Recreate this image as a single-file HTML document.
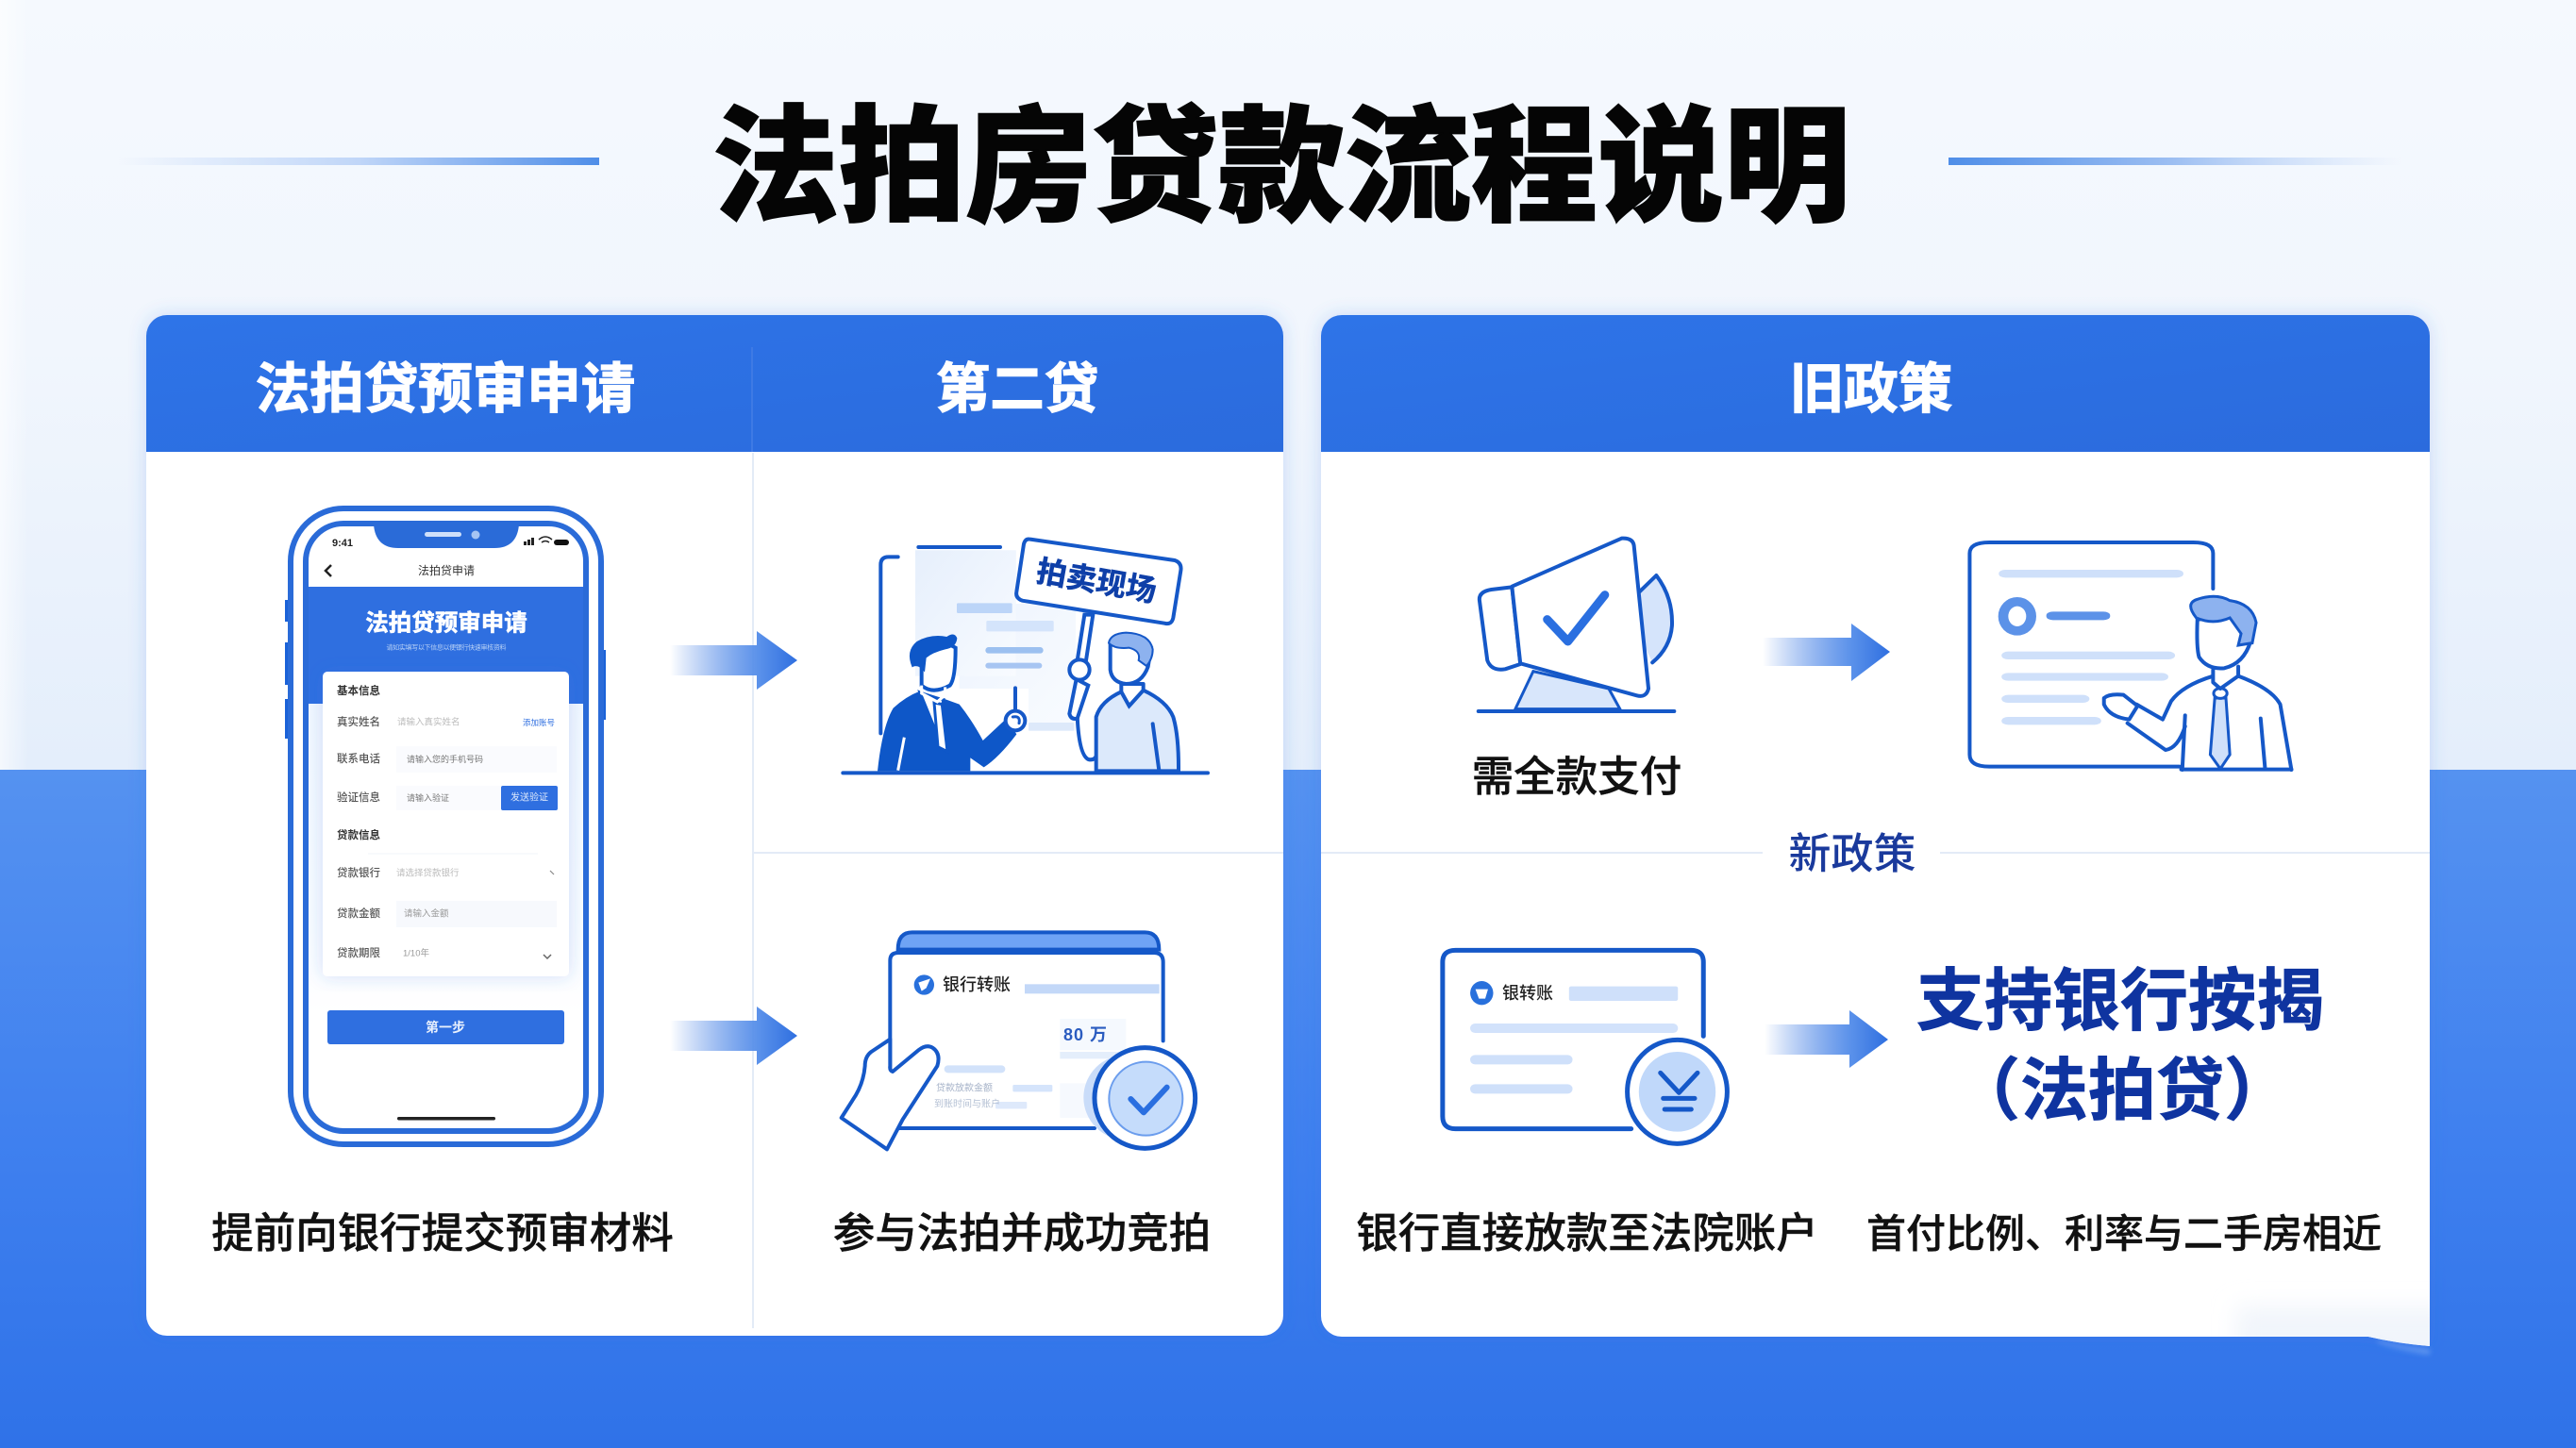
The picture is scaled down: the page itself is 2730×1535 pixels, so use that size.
<!DOCTYPE html>
<html lang="zh">
<head>
<meta charset="utf-8">
<title>法拍房贷款流程说明</title>
<style>
html,body{margin:0;padding:0;width:2730px;height:1535px;overflow:hidden;background:#fff}
svg{display:block;position:absolute;left:0;top:0}
text{font-family:"Liberation Sans","Noto Sans CJK SC",sans-serif}
.c{text-anchor:middle;dominant-baseline:central}
.l{dominant-baseline:central}
.hd{font-size:57.5px;font-weight:700;fill:#fff;stroke:#fff;stroke-width:1.2px}
.cap{font-size:44.5px;fill:#111;font-weight:500;stroke:#111;stroke-width:.4px}
.pl{font-size:11.5px;fill:#555;font-weight:500}
.pv{font-size:9.5px;fill:#bbb}
g.t *{vector-effect:non-scaling-stroke}
.s{fill:none;stroke:#1558c8;stroke-width:4;stroke-linecap:round;stroke-linejoin:round}
.w{fill:#fff;stroke:#1558c8;stroke-width:4;stroke-linecap:round;stroke-linejoin:round}
</style>
</head>
<body>
<svg width="2730" height="1535" viewBox="0 0 2730 1535" xmlns="http://www.w3.org/2000/svg">
<defs>
<linearGradient id="bgt" x1="0" y1="0" x2="0" y2="1"><stop offset="0" stop-color="#f5f9fe"/><stop offset=".45" stop-color="#f1f6fd"/><stop offset="1" stop-color="#e4eefb"/></linearGradient>
<linearGradient id="edg" x1="0" y1="0" x2="1" y2="0"><stop offset="0" stop-color="#fff" stop-opacity=".6"/><stop offset="1" stop-color="#fff" stop-opacity="0"/></linearGradient>
<linearGradient id="bgb" x1="0" y1="0" x2="0" y2="1"><stop offset="0" stop-color="#5592f0"/><stop offset=".55" stop-color="#3f80ef"/><stop offset="1" stop-color="#2f72e8"/></linearGradient>
<linearGradient id="ll" x1="0" y1="0" x2="1" y2="0"><stop offset="0" stop-color="#c0d6f8" stop-opacity="0"/><stop offset=".5" stop-color="#c0d6f8"/><stop offset="1" stop-color="#4f8ee8"/></linearGradient>
<linearGradient id="lr" x1="0" y1="0" x2="1" y2="0"><stop offset="0" stop-color="#4f8ee8"/><stop offset=".5" stop-color="#9dbff2"/><stop offset="1" stop-color="#c0d6f8" stop-opacity="0"/></linearGradient>
<linearGradient id="arw" x1="0" y1="0" x2="1" y2="0"><stop offset="0" stop-color="#2f6fe0" stop-opacity="0"/><stop offset=".7" stop-color="#5a91ea"/><stop offset="1" stop-color="#2f6fe0"/></linearGradient>
<linearGradient id="pan" x1="0" y1="0" x2="1" y2="1"><stop offset="0" stop-color="#e6effc"/><stop offset="1" stop-color="#f8fbff"/></linearGradient>
<linearGradient id="scr" x1="0" y1="0" x2="0" y2="1"><stop offset="0" stop-color="#f2f7fe"/><stop offset=".7" stop-color="#f8fbff"/><stop offset="1" stop-color="#fff"/></linearGradient>
<linearGradient id="hdg" x1="0" y1="0" x2="1" y2="1"><stop offset="0" stop-color="#2e74e8"/><stop offset="1" stop-color="#2b6bdd"/></linearGradient>
<filter id="sh" x="-5%" y="-5%" width="110%" height="110%"><feDropShadow dx="0" dy="0" stdDeviation="9" flood-color="#2f6fe0" flood-opacity=".22"/></filter>
<filter id="bl" x="-50%" y="-50%" width="200%" height="200%"><feGaussianBlur stdDeviation="3"/></filter>
<filter id="bl2" x="-30%" y="-60%" width="160%" height="220%"><feGaussianBlur stdDeviation="12"/></filter>
<clipPath id="rc"><path d="M1400 356a22 22 0 0 1 22-22H2553a22 22 0 0 1 22 22V1427Q2540 1424 2510 1417H1422a22 22 0 0 1-22-22Z"/></clipPath>
</defs>

<!-- background -->
<rect width="2730" height="817" fill="url(#bgt)"/>
<rect width="30" height="817" fill="url(#edg)"/>
<rect y="816" width="2730" height="719" fill="url(#bgb)"/>

<!-- title -->
<rect x="125" y="167" width="510" height="8" fill="url(#ll)"/>
<rect x="2065" y="167" width="480" height="8" fill="url(#lr)"/>
<text x="1358" y="178" class="c" font-size="134" font-weight="900" fill="#050505" stroke="#050505" stroke-width="1.5">法拍房贷款流程说明</text>

<!-- left card -->
<g filter="url(#sh)"><rect x="155" y="334" width="1205" height="1082" rx="22" fill="#fff"/></g>
<path d="M155 479V356a22 22 0 0 1 22-22H1338a22 22 0 0 1 22 22V479Z" fill="url(#hdg)"/>
<line x1="797" y1="368" x2="797" y2="479" stroke="#3e7ae4" stroke-width="2"/>
<line x1="798" y1="480" x2="798" y2="1408" stroke="#e3ebf7" stroke-width="2"/>
<line x1="798" y1="904" x2="1360" y2="904" stroke="#e3ebf7" stroke-width="2"/>
<text x="472" y="413" class="c hd">法拍贷预审申请</text>
<text x="1078" y="413" class="c hd">第二贷</text>

<!-- right card -->
<g filter="url(#sh)"><path d="M1400 356a22 22 0 0 1 22-22H2553a22 22 0 0 1 22 22V1427Q2540 1424 2510 1417H1422a22 22 0 0 1-22-22Z" fill="#fff"/></g>
<path d="M1400 479V356a22 22 0 0 1 22-22H2553a22 22 0 0 1 22 22V479Z" fill="url(#hdg)"/>
<text x="1983" y="413" class="c hd">旧政策</text>
<line x1="1400" y1="904" x2="1868" y2="904" stroke="#e3ebf7" stroke-width="2"/>
<line x1="2056" y1="904" x2="2575" y2="904" stroke="#e3ebf7" stroke-width="2"/>
<text x="1963" y="905" class="c" font-size="45" font-weight="500" fill="#1a3a9c">新政策</text>
<g clip-path="url(#rc)"><rect x="2370" y="1385" width="230" height="70" fill="#f1f5fb" filter="url(#bl2)"/></g>
<path d="M2520 1420Q2545 1428 2575 1430L2575 1436Q2545 1432 2520 1423Z" fill="#bcd5fb" opacity=".35" filter="url(#bl)"/>

<!-- captions -->
<text x="469" y="1308" class="c cap">提前向银行提交预审材料</text>
<text x="1083" y="1308" class="c cap">参与法拍并成功竞拍</text>
<text x="1682" y="1308" class="c cap">银行直接放款至法院账户</text>
<text x="2251" y="1308" class="c cap" style="font-size:42px">首付比例、利率与二手房相近</text>
<text x="1671" y="824" class="c cap">需全款支付</text>
<text x="2247" y="1062" class="c" font-size="72" font-weight="700" fill="#0f34a0" stroke="#0f34a0" stroke-width=".8">支持银行按揭</text>
<text x="2249" y="1157" class="c" font-size="72" font-weight="700" fill="#0f34a0" stroke="#0f34a0" stroke-width=".8">（法拍贷）</text>

<!-- arrows -->
<path d="M710 684H802V669L845 700L802 731V716H710Z" fill="url(#arw)"/>
<path d="M710 1082H802V1067L845 1098L802 1129V1114H710Z" fill="url(#arw)"/>
<path d="M1868 676H1962V661L2003 691L1962 722V706H1868Z" fill="url(#arw)"/>
<path d="M1870 1086H1960V1071L2001 1102L1960 1132V1118H1870Z" fill="url(#arw)"/>

<!-- phone -->
<g>
<rect x="302" y="636" width="5" height="23" fill="#1a62d8"/><rect x="302" y="681" width="5" height="45" fill="#1a62d8"/><rect x="302" y="741" width="5" height="42" fill="#1a62d8"/>
<rect x="637" y="689" width="5" height="74" fill="#1a62d8"/>
<rect x="308" y="539" width="329" height="674" rx="56" fill="#fff" stroke="#2a6bd8" stroke-width="6"/>
<rect x="324" y="555" width="297" height="644" rx="40" fill="#fff" stroke="#2a6bd8" stroke-width="6"/>
<path d="M396 556H550Q548 581 524 581H422Q398 581 396 556Z" fill="#2a6bd8"/>
<rect x="450" y="564" width="39" height="5" rx="2.5" fill="#cfe0fa"/><circle cx="504" cy="567" r="4.5" fill="#a5c4f3"/>
<text x="363" y="576" class="c" font-size="11" font-weight="700" fill="#222">9:41</text>
<rect x="555" y="574" width="3" height="4" fill="#222"/><rect x="559" y="572" width="3" height="6" fill="#222"/><rect x="563" y="570" width="3" height="8" fill="#222"/>
<path d="M571 572Q578 566 585 572M574 575Q578 572 582 575" fill="none" stroke="#222" stroke-width="1.5"/>
<rect x="587" y="572" width="16" height="6" rx="3" fill="#111"/>
<path d="M351 599L345 605L351 611" fill="none" stroke="#222" stroke-width="2.5"/>
<text x="473" y="605" class="c" font-size="12" fill="#333">法拍贷申请</text>
<rect x="327" y="622" width="291" height="124" fill="#2f6fe0"/>
<rect x="327" y="746" width="291" height="330" fill="url(#scr)"/>
<text x="473" y="661" class="c" font-size="24.5" font-weight="700" fill="#fff" stroke="#fff" stroke-width=".6">法拍贷预审申请</text>
<text x="473" y="687" class="c" font-size="7" fill="#b9d2f6" textLength="127">请如实填写以下信息以便银行快速审核资料</text>
<rect x="342" y="712" width="261" height="323" rx="5" fill="#fff" filter="url(#sh)"/>
<text x="357" y="733" class="l pl" style="font-weight:700;fill:#333">基本信息</text>
<text x="357" y="766" class="l pl">真实姓名</text><text x="421" y="766" class="l pv">请输入真实姓名</text><text x="554" y="766" class="l" font-size="8.5" fill="#2f6fe0">添加账号</text>
<rect x="420" y="791" width="170" height="28" fill="#fafbfe"/>
<text x="357" y="805" class="l pl">联系电话</text><text x="431" y="805" class="l" font-size="9" fill="#777">请输入您的手机号码</text>
<rect x="420" y="833" width="111" height="26" fill="#fafbfe"/>
<text x="357" y="846" class="l pl">验证信息</text><text x="431" y="846" class="l" font-size="9" fill="#777">请输入验证</text>
<rect x="531" y="833" width="60" height="26" rx="2" fill="#2f6fe0"/><text x="561" y="846" class="c" font-size="10" fill="#dbe8fc">发送验证</text>
<text x="357" y="886" class="l pl" style="font-weight:700;fill:#333">贷款信息</text>
<line x1="390" y1="905" x2="570" y2="905" stroke="#f2f4f8"/>
<text x="357" y="926" class="l pl">贷款银行</text><text x="420" y="926" class="l pv">请选择贷款银行</text>
<path d="M583 923L587 927" fill="none" stroke="#888" stroke-width="1.2"/>
<rect x="420" y="955" width="170" height="28" fill="#f7f9fd"/>
<text x="357" y="969" class="l pl">贷款金额</text><text x="428" y="969" class="l pv" style="fill:#999">请输入金额</text>
<text x="357" y="1011" class="l pl">贷款期限</text><text x="427" y="1011" class="l pv" style="fill:#999">1/10年</text>
<path d="M576 1012L580 1016L584 1012" fill="none" stroke="#666" stroke-width="1.5"/>
<rect x="347" y="1071" width="251" height="36" rx="3" fill="#2f6fe0"/>
<text x="472" y="1089" class="c" font-size="14" font-weight="700" fill="#e8f0fd">第一步</text>
<rect x="421" y="1184" width="104" height="3.5" rx="1.7" fill="#222"/>
</g>

<!-- auction illustration -->
<g class="t" transform="translate(860 540) scale(.33333)">
<path d="M330 130H650V300H840V705H690V570H470V300H330Z" fill="url(#pan)" opacity=".9"/>
<rect x="330" y="130" width="320" height="400" fill="url(#pan)"/>
<path d="M340 120H600" class="s"/>
<path d="M275 151H245Q220 151 220 176V712" class="s"/>
<rect x="462" y="298" width="176" height="32" rx="4" fill="#bcd5f8"/>
<rect x="556" y="354" width="214" height="34" rx="4" fill="#d4e4fb"/>
<rect x="553" y="438" width="184" height="20" rx="10" fill="#9cc0f0"/>
<rect x="553" y="488" width="180" height="18" rx="9" fill="#a7c5f2"/>
<rect x="690" y="678" width="145" height="26" rx="4" fill="#dde9fa"/>
<path d="M648 568V640" class="s"/>
<!-- left man -->
<path d="M210 832Q225 690 260 632Q300 595 345 578L415 600L470 620Q510 670 545 735L620 665L652 715Q595 790 548 820L505 790V832Z" fill="#0e57c8"/>
<path d="M275 830L295 725" stroke="#fff" stroke-width="3" fill="none"/>
<path d="M345 582L395 705L420 605L385 600Z" fill="#fff" stroke="#0e57c8" stroke-width="3"/>
<path d="M390 615L415 620L432 770L402 755Z" fill="#fff" stroke="#0e57c8" stroke-width="3"/>
<path d="M350 470V560Q385 590 440 560Q458 540 458 440L420 420L360 440Z" fill="#fff" stroke="#0e57c8" stroke-width="4"/>
<path d="M320 502Q298 450 335 420Q380 395 430 405Q455 388 463 410Q460 440 425 445Q385 455 365 472L360 518Q340 490 320 502Z" fill="#0e57c8"/>
<path d="M350 560V585L400 612L425 590V565" fill="none" stroke="#fff" stroke-width="3"/>
<circle cx="648" cy="672" r="31" class="w"/>
<path d="M640 660Q665 655 660 680" class="s" style="stroke-width:3"/>
<!-- right man -->
<path d="M845 655Q850 780 880 795Q900 800 908 780" class="s"/>
<path d="M905 832V660Q920 610 985 580L1010 625L1055 575Q1130 610 1150 660Q1168 720 1167 832Z" fill="#dce9fb" stroke="#1558c8" stroke-width="4"/>
<path d="M1085 682L1105 830" class="s"/>
<path d="M985 555V580L1010 625L1055 575V555Z" fill="#fff" stroke="#1558c8" stroke-width="4" stroke-linejoin="round"/>
<path d="M950 430V510Q955 550 1000 555Q1050 555 1070 500L1080 440L1000 400Z" fill="#fff" stroke="#1558c8" stroke-width="4"/>
<path d="M945 425Q950 395 1000 392Q1075 395 1085 445Q1085 475 1065 498L1040 480Q1048 450 1010 440Q965 445 945 425Z" fill="#8db2ef" stroke="#1558c8" stroke-width="2"/>
<!-- sign -->
<path d="M868 335L895 335L870 500L842 500Z" fill="#fff" stroke="#1558c8" stroke-width="4"/>
<path d="M842 540L820 650Q825 670 845 665L880 560Z" fill="#fff" stroke="#1558c8" stroke-width="4"/>
<circle cx="852" cy="510" r="32" class="w"/>
<path d="M695 95L1155 162Q1178 170 1174 195L1150 345Q1145 368 1122 362L670 290Q648 282 652 262L675 110Q680 92 695 95Z" class="w"/>
<line x1="100" y1="838" x2="1260" y2="838" stroke="#1558c8" stroke-width="4" stroke-linecap="round"/>
</g>
<text x="1162" y="616" class="c" font-size="32" font-weight="700" fill="#0e3fa8" stroke="#0e3fa8" stroke-width=".6" transform="rotate(10 1162 616)">拍卖现场</text>

<!-- transfer illustration -->
<g class="t" transform="translate(860 960) scale(.33333)">
<path d="M275 140Q275 85 320 85H1060Q1105 85 1105 140Z" fill="#6fa3f5" stroke="#1558c8" stroke-width="4"/>
<path d="M250 710V175Q250 150 275 150H1090Q1118 150 1118 180V710Z" fill="#fff"/>
<path d="M250 520V175Q250 150 275 150H1090Q1118 150 1118 180V430" class="s"/>
<path d="M280 708H900" class="s"/>
<circle cx="358" cy="252" r="32" fill="#2870dc"/>
<path d="M340 245L378 232L365 262L350 272Z" fill="#fff"/>
<rect x="678" y="250" width="428" height="30" fill="#c3d8f8"/>
<rect x="790" y="360" width="210" height="100" fill="#f5f9fe"/>
<rect x="790" y="465" width="190" height="22" fill="#e4eefb"/>
<rect x="790" y="565" width="120" height="110" fill="#f6f9fe"/>
<rect x="422" y="508" width="194" height="24" rx="12" fill="#d2e2fa"/>
<rect x="640" y="570" width="126" height="22" rx="4" fill="#d5e4fb"/>
<rect x="585" y="624" width="100" height="22" rx="4" fill="#dee9fb"/>
<path d="M250 425L190 465Q170 480 170 510Q165 570 130 620L95 675L240 775L290 680L400 510Q412 470 385 452Q365 440 340 460L258 528Q248 525 250 510Z" class="w"/>
<circle cx="1000" cy="610" r="135" fill="#c9dcf9"/>
<circle cx="1060" cy="612" r="160" fill="#fff" stroke="#1558c8" stroke-width="5"/>
<circle cx="1063" cy="614" r="117" fill="#c5dcfb" stroke="#6b9ded" stroke-width="2"/>
<path d="M1015 615L1056 658L1130 578" fill="none" stroke="#2a6fe0" stroke-width="6" stroke-linecap="round" stroke-linejoin="round"/>
</g>
<text x="999" y="1044" class="l" font-size="18" font-weight="500" fill="#222">银行转账</text>
<text x="1127" y="1097" class="l" font-size="18" font-weight="700" fill="#2a5cc0" letter-spacing="1">80 万</text>
<text x="992" y="1154" class="l" font-size="10" fill="#a5b2c8">贷款放款金额</text>
<text x="990" y="1171" class="l" font-size="10" fill="#b4c0d4">到账时间与账户</text>

<!-- megaphone -->
<g class="t" transform="translate(1530 540) scale(.593 .33333)">
<path d="M160 515L128 635H315L295 570Z" fill="#d8e6fb" stroke="#1558c8" stroke-width="3"/>
<path d="M350 262L380 210Q410 280 408 370Q405 440 373 487L350 400Z" fill="#d5e4fb"/>
<path d="M350 262L380 210Q410 280 408 370Q405 440 373 487" class="s"/>
<path d="M122 247L85 255Q62 262 64 290L78 480Q85 515 110 508L137 492Z" class="w"/>
<path d="M122 245L318 92Q338 90 340 115L366 570Q362 600 345 592L137 490Z" class="w"/>
<path d="M185 350L222 420L288 272" fill="none" stroke="#2a6fe0" stroke-width="9" stroke-linecap="round" stroke-linejoin="round"/>
<line x1="62" y1="642" x2="412" y2="642" stroke="#1558c8" stroke-width="4" stroke-linecap="round"/>
<!-- doc with man -->
<path d="M1375 252V140Q1375 105 1340 105H975Q940 105 940 140V780Q940 818 975 818H1315" class="s"/>
<rect x="992" y="192" width="330" height="25" rx="12" fill="#cfe0fa"/>
<ellipse cx="1025" cy="340" rx="34" ry="61" fill="#5c92e8"/>
<ellipse cx="1025" cy="340" rx="16" ry="32" fill="#fff"/>
<rect x="1077" y="325" width="114" height="27" rx="12" fill="#5c92e8"/>
<rect x="997" y="452" width="310" height="25" rx="12" fill="#cfe0fa"/>
<rect x="997" y="520" width="298" height="25" rx="12" fill="#cfe0fa"/>
<rect x="997" y="590" width="157" height="25" rx="12" fill="#cfe0fa"/>
<rect x="997" y="660" width="178" height="25" rx="12" fill="#cfe0fa"/>
<path d="M1320 828L1325 660L1290 668L1300 610Q1320 560 1375 530H1420Q1480 570 1495 620L1515 828Z" fill="#fff"/>
<path d="M1375 530Q1320 560 1300 610L1285 668L1238 620" class="s"/>
<path d="M1222 680L1290 765Q1312 760 1325 690" class="s"/>
<path d="M1320 828L1325 655" class="s"/>
<path d="M1420 530Q1480 570 1495 620L1515 828" class="s"/>
<path d="M1318 827H1515" class="s"/>
<path d="M1180 600Q1190 585 1215 590L1240 625L1225 668Q1190 660 1180 620Z" class="w"/>
<path d="M1378 600H1398L1405 780L1388 825L1370 780Z" fill="#cfe0fa" stroke="#1558c8" stroke-width="3"/>
<ellipse cx="1388" cy="585" rx="12" ry="16" fill="#fff" stroke="#1558c8" stroke-width="3"/>
<path d="M1375 510V550L1388 570L1420 530V500" class="w"/>
<path d="M1347 350Q1345 440 1350 470Q1365 510 1395 505Q1430 490 1442 420L1420 340Z" class="w"/>
<path d="M1345 345Q1325 300 1345 287Q1380 265 1405 290Q1445 300 1452 360L1445 425L1420 432L1425 395L1405 345Q1375 368 1345 345Z" fill="#8db2ef" stroke="#1558c8" stroke-width="3"/>
<path d="M1460 665L1468 825" class="s"/>
</g>

<!-- bank doc -->
<g class="t" transform="translate(1500 980) scale(.37 .33333)">
<path d="M825 355V120Q825 82 790 82H115Q78 82 78 120V610Q78 650 115 650H618" class="s" style="stroke-width:5"/>
<ellipse cx="190" cy="218" rx="33" ry="38" fill="#2870dc"/>
<path d="M172 206H208L200 236H182Z" fill="#fff"/>
<rect x="440" y="197" width="312" height="46" rx="6" fill="#cfe0fa"/>
<rect x="157" y="315" width="595" height="30" rx="14" fill="#d2e2fb"/>
<rect x="157" y="415" width="293" height="30" rx="14" fill="#cfe0fa"/>
<rect x="157" y="508" width="293" height="30" rx="14" fill="#cfe0fa"/>
<ellipse cx="750" cy="532" rx="143" ry="165" fill="#fff" stroke="#1558c8" stroke-width="5"/>
<ellipse cx="750" cy="532" rx="110" ry="127" fill="#c0d8fa"/>
<path d="M702 472L755 535L808 472" fill="none" stroke="#1558c8" stroke-width="5" stroke-linecap="round" stroke-linejoin="round"/>
<path d="M710 553H800" fill="none" stroke="#1558c8" stroke-width="5" stroke-linecap="round"/>
<path d="M714 588H790" fill="none" stroke="#1558c8" stroke-width="5" stroke-linecap="round"/>
</g>
<text x="1592" y="1053" class="l" font-size="18" font-weight="500" fill="#222">银转账</text>
</svg>
</body>
</html>
